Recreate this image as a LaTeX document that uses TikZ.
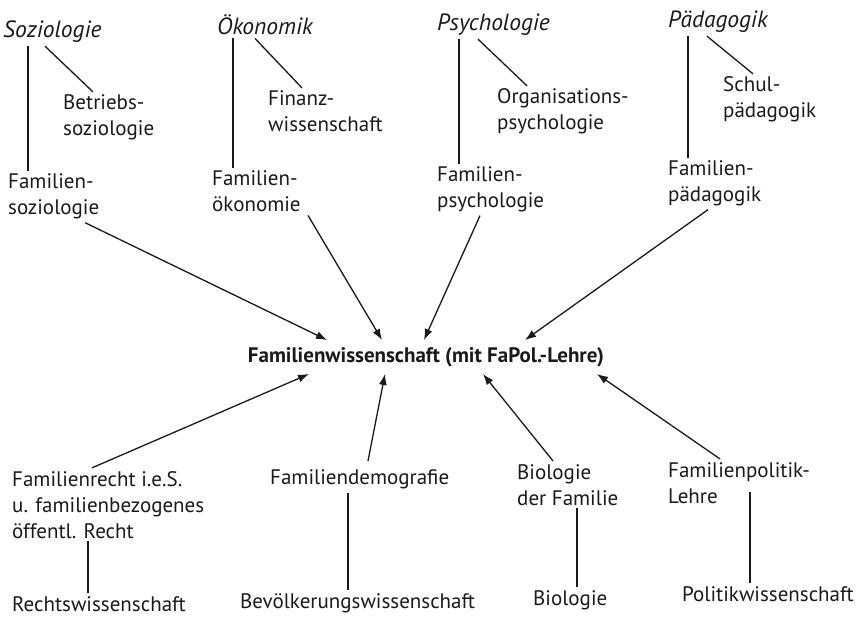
\documentclass[tikz,border=0pt]{standalone}
\usepackage{fontspec}
\setmainfont{PT Sans}
\usetikzlibrary{arrows.meta}
\definecolor{Ink}{HTML}{1A1A1A}
\tikzset{
  field/.style={
    anchor=base west, inner xsep=0pt, inner ysep=3pt, align=left,
    text=Ink, font=\fontsize{21}{26}\selectfont
  },
  discipline/.style={field, font=\fontsize{23.5}{26}\selectfont\itshape},
  core/.style={inner xsep=0pt, inner ysep=7pt, text=Ink,
    font=\fontsize{21}{26}\selectfont\bfseries},
  link/.style={draw=Ink, line width=1.3pt},
  flow/.style={-{Latex[length=11pt,width=8pt]}, draw=Ink, line width=1.3pt}
}
\begin{document}
\begin{tikzpicture}[x=1pt,y=-1pt]
    \useasboundingbox (0,0) rectangle (857,617);
    % disciplines on top (base = last line)
    \node[discipline] (soz) at (3,38) {Soziologie};
    \node[discipline] (oek) at (217,35) {Ökonomik};
    \node[discipline] (psy) at (437,31) {Psychologie};
    \node[discipline] (paed) at (668,28) {Pädagogik};
    \node[field] (betr) at (63,136) {Betriebs-\\soziologie};
    \node[field] (fin) at (268,132) {Finanz-\\wissenschaft};
    \node[field] (org) at (497,130) {Organisations-\\psychologie};
    \node[field] (schul) at (723,118) {Schul-\\pädagogik};
    \node[field] (famsoz) at (8,215) {Familien-\\soziologie};
    \node[field] (famoek) at (212,212) {Familien-\\ökonomie};
    \node[field] (fampsy) at (437,208) {Familien-\\psychologie};
    \node[field] (fampaed) at (668,202) {Familien-\\pädagogik};
    % centre
    \node[core] (fw) at (426,357) {Familienwissenschaft (mit FaPol.-Lehre)};
    % bottom row
    \node[field] (famrecht) at (12,538) {Familienrecht i.e.S.\\u. familienbezogenes\\öffentl. Recht};
    \node[field] (famdemo) at (270,485) {Familiendemografie};
    \node[field] (biofam) at (517,505) {Biologie\\der Familie};
    \node[field] (fampol) at (668,503) {Familienpolitik-\\Lehre};
    \node[field] (rw) at (12,611) {Rechtswissenschaft};
    \node[field] (bev) at (240,608) {Bevölkerungswissenschaft};
    \node[field] (bio) at (533,605) {Biologie};
    \node[field] (polw) at (682,601) {Politikwissenschaft};
    % stems and branches
    \draw[link] ([xshift=20pt]famsoz.north west) -- ([xshift=20pt]famsoz.north west |- soz.south);
    \draw[link] ([xshift=42pt]soz.south west) -- ([xshift=30pt]betr.north west);
    \draw[link] ([xshift=21pt]famoek.north west) -- ([xshift=21pt]famoek.north west |- oek.south);
    \draw[link] ([xshift=38pt]oek.south west) -- ([xshift=34pt]fin.north west);
    \draw[link] ([xshift=22pt]fampsy.north west) -- ([xshift=22pt]fampsy.north west |- psy.south);
    \draw[link] ([xshift=41pt]psy.south west) -- ([xshift=30pt]org.north west);
    \draw[link] ([xshift=20pt]fampaed.north west) -- ([xshift=20pt]fampaed.north west |- paed.south);
    \draw[link] ([xshift=39pt]paed.south west) -- ([xshift=30pt]schul.north west);
    \draw[link] ([xshift=76pt]rw.north west) -- ([xshift=76pt]rw.north west |- famrecht.south);
    \draw[link] ([xshift=108pt]bev.north west) -- ([xshift=108pt]bev.north west |- famdemo.south);
    \draw[link] ([xshift=44pt]bio.north west) -- ([xshift=44pt]bio.north west |- biofam.south);
    \draw[link] ([xshift=68pt]polw.north west) -- ([xshift=68pt,yshift=14pt]polw.north west |- fampol.south);
    % arrows into the centre
    \draw[flow] ([xshift=77pt]famsoz.south west) -- ([xshift=-99pt]fw.north);
    \draw[flow] ([xshift=96pt]famoek.south west) -- ([xshift=-44pt]fw.north);
    \draw[flow] ([xshift=43pt]fampsy.south west) -- ([xshift=-2pt]fw.north);
    \draw[flow] ([xshift=40pt]fampaed.south west) -- ([xshift=99pt]fw.north);
    \draw[flow] ([xshift=80pt]famrecht.north west) -- ([xshift=-117pt]fw.south);
    \draw[flow] ([xshift=98pt,yshift=6pt]famdemo.north west) -- ([xshift=-41pt]fw.south);
    \draw[flow] ([xshift=36pt]biofam.north west) -- ([xshift=57pt]fw.south);
    \draw[flow] ([xshift=52pt]fampol.north west) -- ([xshift=171pt]fw.south);
\end{tikzpicture}
\end{document}
